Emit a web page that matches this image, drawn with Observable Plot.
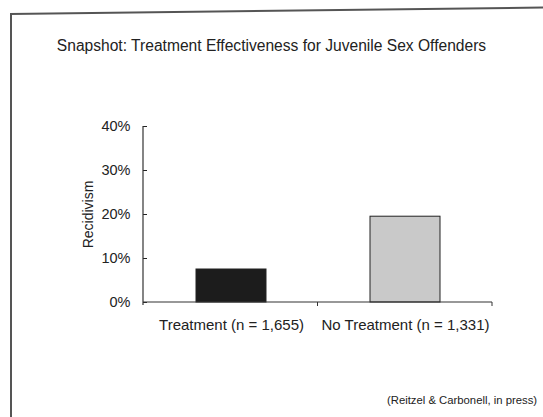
<!DOCTYPE html>
<html>
<head>
<meta charset="utf-8">
<script src="https://cdn.jsdelivr.net/npm/d3@7"></script>
<script src="https://cdn.jsdelivr.net/npm/@observablehq/plot@0.6"></script>
<style>
  html, body { margin: 0; padding: 0; background: #fff; overflow: hidden; }
  body { width: 543px; height: 417px; position: relative; font-family: "Liberation Sans", Arial, sans-serif; color: #222; }
  #frameLeft { position: absolute; left: 10px; top: 13px; width: 2px; height: 410px; background: #555; }
  #frameTop { position: absolute; left: 10px; top: 13px; width: 540px; height: 2px; background: #555; transform-origin: 0 50%; transform: rotate(-0.7deg); }
  #title { position: absolute; left: 0; width: 543px; top: 37px; text-align: center; font-size: 15.6px; white-space: nowrap; }
  #chart { position: absolute; left: 0; top: 100px; }
  #source { position: absolute; left: 387px; top: 394px; font-size: 11.3px; white-space: nowrap; }
</style>
</head>
<body>
<div id="frameLeft"></div>
<div id="frameTop"></div>
<div id="title">Snapshot: Treatment Effectiveness for Juvenile Sex Offenders</div>
<div id="chart"></div>
<div id="source">(Reitzel &amp; Carbonell, in press)</div>
<script>
const categories = ["Treatment (n = 1,655)", "No Treatment (n = 1,331)"];
const recidivism = [7.5, 19.5];
const barFills = ["#1c1c1c", "#c9c9c9"];
const yTicks = [0, 10, 20, 30, 40];
const yLabel = "Recidivism";

const data = categories.map((c, i) => ({category: c, value: recidivism[i], fill: barFills[i]}));

const axisLines = (index, scales, values, dims) => {
  const g = d3.create("svg:g").attr("stroke", "#333").attr("fill", "none");
  const x0 = dims.marginLeft, x1 = dims.width - dims.marginRight;
  const yTop = scales.y(yTicks[yTicks.length - 1]), y0 = scales.y(0);
  g.append("line").attr("x1", x0).attr("x2", x0).attr("y1", yTop).attr("y2", y0 + 3).attr("stroke-width", 1.2);
  g.append("line").attr("x1", x0).attr("x2", x1).attr("y1", y0).attr("y2", y0).attr("stroke-width", 1.2);
  const step = (x1 - x0) / categories.length;
  for (let i = 1; i <= categories.length; i++) {
    const xb = x0 + step * i;
    g.append("line").attr("x1", xb).attr("x2", xb).attr("y1", y0).attr("y2", y0 + 4);
  }
  return g.node();
};

const plot = Plot.plot({
  width: 543,
  height: 240,
  marginTop: 26,
  marginBottom: 38,
  marginLeft: 143,
  marginRight: 51,
  style: {fontFamily: "Liberation Sans, Arial, sans-serif", fontSize: "15px", color: "#222", background: "transparent"},
  x: {domain: categories, paddingInner: 0.6, paddingOuter: 0.3},
  y: {domain: [0, 40]},
  marks: [
    Plot.barY(data, {x: "category", y: "value", fill: "fill", stroke: "#222", strokeWidth: 1}),
    Plot.axisX({tickSize: 0, tickPadding: 17, label: null, fontSize: 15}),
    Plot.axisY({ticks: yTicks, tickSize: -4, tickPadding: 17, tickFormat: d => d + "%", fontSize: 14.5, label: null}),
    Plot.axisY({ticks: [], tickSize: 0, label: yLabel, labelAnchor: "center", labelArrow: "none", labelOffset: 60, fontSize: 14}),
    axisLines
  ]
});
document.getElementById("chart").appendChild(plot);
</script>
</body>
</html>
